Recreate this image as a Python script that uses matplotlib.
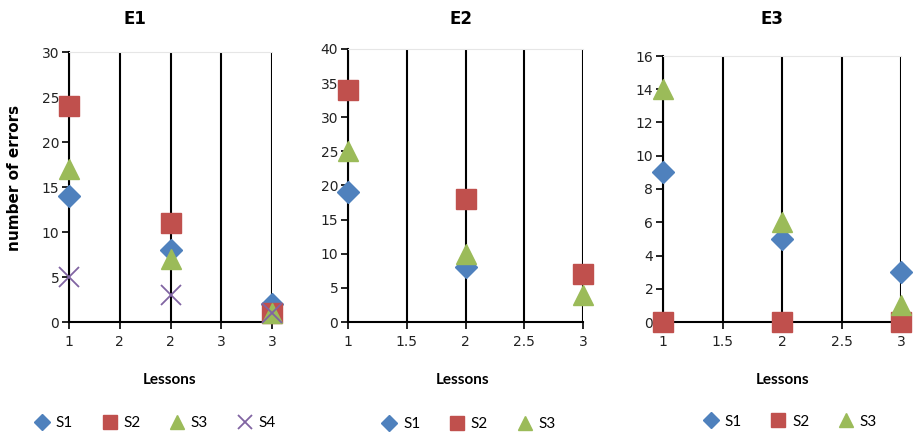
import matplotlib
matplotlib.use("Agg")
import matplotlib.pyplot as plt
import numpy as np

lessons = [1, 2, 3]

# E1
e1_s1 = [14, 8, 2]
e1_s2 = [24, 11, 1]
e1_s3 = [17, 7, 1]
e1_s4 = [5, 3, 1]
# E2
e2_s1 = [19, 8, np.nan]
e2_s2 = [34, 18, 7]
e2_s3 = [25, 10, 4]
# E3
e3_s1 = [9, 5, 3]
e3_s2 = [0, 0, 0]
e3_s3 = [14, 6, 1]

titles = ["E1", "E2", "E3"]
ylims = [30, 40, 16]
ysteps = [5, 5, 2]
xtick_pos = [1, 1.5, 2, 2.5, 3]
xtick_labels_e1 = ["1", "2", "2", "3", "3"]
xtick_labels_other = ["1", "1.5", "2", "2.5", "3"]

colors = {"S1": "#4F81BD", "S2": "#C0504D", "S3": "#9BBB59", "S4": "#8064A2"}
markers = {"S1": ("D", 11), "S2": ("s", 14), "S3": ("^", 14), "S4": ("x", 14)}

fig = plt.figure(figsize=(9.13, 4.36), dpi=100)
W, H = 913, 436

def axpos(l, r, t, b):
    return [l / W, 1 - b / H, (r - l) / W, (b - t) / H]

axes = [
    fig.add_axes(axpos(69, 272, 52, 322)),
    fig.add_axes(axpos(348, 583, 49, 322)),
    fig.add_axes(axpos(663, 901, 56, 322)),
]

data = [
    {"S1": e1_s1, "S2": e1_s2, "S3": e1_s3, "S4": e1_s4},
    {"S1": e2_s1, "S2": e2_s2, "S3": e2_s3},
    {"S1": e3_s1, "S2": e3_s2, "S3": e3_s3},
]

title_x = [135, 461, 772]
lessons_x = [170, 463, 783]
leg_cx = [0.42, 0.51, 0.53]

for i, ax in enumerate(axes):
    ax.set_xlim(1, 3)
    ax.set_ylim(0, ylims[i])
    for xp in xtick_pos:
        ax.axvline(xp, color="black", lw=1.5, zorder=1)
    for name, vals in data[i].items():
        m, ms = markers[name]
        if m == "x":
            ax.plot(lessons, vals, linestyle="none", marker=m, ms=ms, mew=1.3,
                    color=colors[name], label=name, clip_on=False, zorder=5)
        else:
            ax.plot(lessons, vals, linestyle="none", marker=m, ms=ms,
                    color=colors[name], mec=colors[name], label=name,
                    clip_on=False, zorder=5)
    ax.set_yticks(np.arange(0, ylims[i] + 0.1, ysteps[i]))
    ax.set_xticks(xtick_pos)
    ax.set_xticklabels(xtick_labels_e1 if i == 0 else xtick_labels_other)
    ax.tick_params(axis="both", labelsize=10, colors="black", labelcolor="#222222",
                   length=5, width=1.2, direction="out")
    ax.tick_params(axis="x", pad=4)
    ax.tick_params(axis="y", pad=2)
    ax.spines["right"].set_visible(False)
    ax.spines["top"].set_color("#e6e6e6")
    ax.spines["top"].set_linewidth(0.8)
    ax.spines["left"].set_color("black")
    ax.spines["left"].set_linewidth(1.5)
    ax.spines["bottom"].set_color("black")
    ax.spines["bottom"].set_linewidth(1.5)
    fig.text(title_x[i] / W, 1 - 19 / H, titles[i], ha="center", va="center",
             fontsize=12, fontweight="bold", family="DejaVu Sans")
    fig.text(lessons_x[i] / W, 1 - 380 / H, "Lessons", ha="center", va="center",
             fontsize=11, fontweight="bold", family="Lato")
    ax.legend(loc="center", bbox_to_anchor=(leg_cx[i], -0.375), ncol=len(data[i]),
              frameon=False, prop={"family": "Lato", "size": 11},
              handletextpad=0.3, columnspacing=1.8, handlelength=1.2,
              markerscale=0.75)

fig.text(15 / W, 1 - 178 / H, "number of errors", rotation=90, ha="center", va="center",
         fontsize=11, fontweight="bold", family="DejaVu Sans")

fig.savefig("out.png", dpi=100)
